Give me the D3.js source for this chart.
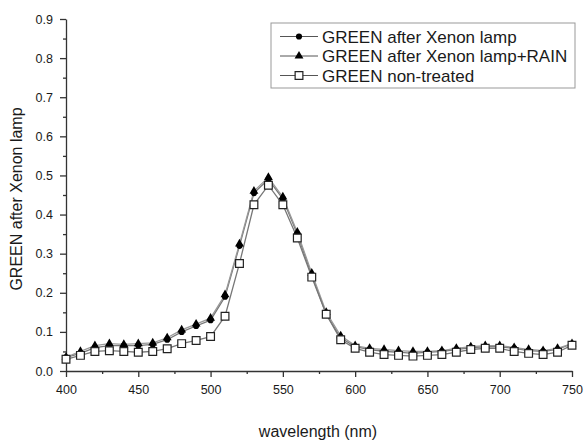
<!DOCTYPE html>
<meta charset="utf-8">
<style>
  body { margin: 0; background: #fff; font-family: "Liberation Sans", Arial, sans-serif; }
  .axis path, .axis line { stroke: #333; stroke-width: 1.3px; }
  .axis text { font-size: 12.5px; fill: #1a1a1a; }
</style>
<body></body>
<script src="https://d3js.org/d3.v7.min.js"></script>
<script>
  // wavelengths (nm)
  var wavelength = [400, 410, 420, 430, 440, 450, 460, 470, 480, 490, 500, 510, 520, 530, 540, 550, 560, 570,
    580, 590, 600, 610, 620, 630, 640, 650, 660, 670, 680, 690, 700, 710, 720, 730, 740, 750];

  var xenon = [0.035, 0.045, 0.06, 0.065, 0.065, 0.065, 0.068, 0.08, 0.1, 0.115, 0.13, 0.19, 0.32, 0.455, 0.49, 0.44, 0.35, 0.245,
    0.145, 0.085, 0.062, 0.055, 0.05, 0.048, 0.045, 0.048, 0.05, 0.055, 0.06, 0.062, 0.062, 0.058, 0.052, 0.05, 0.055, 0.07];

  var xenonRain = [0.035, 0.05, 0.065, 0.07, 0.068, 0.07, 0.072, 0.085, 0.105, 0.12, 0.135, 0.195, 0.325, 0.46, 0.495, 0.445, 0.355, 0.25,
    0.15, 0.09, 0.065, 0.058, 0.055, 0.052, 0.05, 0.05, 0.052, 0.058, 0.062, 0.065, 0.065, 0.06, 0.055, 0.052, 0.058, 0.07];

  var nonTreated = [0.03, 0.04, 0.05, 0.052, 0.05, 0.048, 0.05, 0.057, 0.07, 0.078, 0.088, 0.14, 0.275, 0.425, 0.475, 0.425, 0.34, 0.24,
    0.145, 0.08, 0.058, 0.048, 0.042, 0.04, 0.038, 0.04, 0.042, 0.048, 0.055, 0.058, 0.058, 0.05, 0.045, 0.042, 0.048, 0.066];

  var seriesNames = ["GREEN after Xenon lamp", "GREEN after Xenon lamp+RAIN", "GREEN non-treated"];
  var xTicks = [400, 450, 500, 550, 600, 650, 700, 750];
  var yTicks = [0.0, 0.1, 0.2, 0.3, 0.4, 0.5, 0.6, 0.7, 0.8, 0.9];

  var margin = { top: 19, right: 13, bottom: 70, left: 66 },
    width = 585 - margin.left - margin.right,
    height = 441 - margin.top - margin.bottom;

  var svg = d3.select("body").append("svg")
    .attr("width", 585)
    .attr("height", 441);

  var g = svg.append("g")
    .attr("transform", "translate(" + margin.left + "," + margin.top + ")");

  var x = d3.scaleLinear().domain([400, 750]).range([0, width]);
  var y = d3.scaleLinear().domain([0, 0.9]).range([height, 0]);

  // minor ticks
  g.append("g")
    .attr("class", "axis")
    .attr("transform", "translate(0," + height + ")")
    .call(d3.axisBottom(x).tickValues(d3.range(425, 750, 50)).tickSize(3).tickFormat(""))
    .select(".domain").remove();
  g.append("g")
    .attr("class", "axis")
    .call(d3.axisLeft(y).tickValues(d3.range(0.05, 0.9, 0.1)).tickSize(3).tickFormat(""))
    .select(".domain").remove();

  g.append("g")
    .attr("class", "axis")
    .attr("transform", "translate(0," + height + ")")
    .call(d3.axisBottom(x).tickValues(xTicks).tickSize(6).tickSizeOuter(0).tickPadding(8));

  g.append("g")
    .attr("class", "axis")
    .call(d3.axisLeft(y).tickValues(yTicks).tickSize(6).tickSizeOuter(0).tickPadding(7).tickFormat(d3.format(".1f")));

  var series = [
    { name: seriesNames[0], values: xenon, symbol: d3.symbolCircle, size: 30, fill: "#000", stroke: "#777" },
    { name: seriesNames[1], values: xenonRain, symbol: d3.symbolTriangle, size: 34, fill: "#000", stroke: "#999" },
    { name: seriesNames[2], values: nonTreated, symbol: d3.symbolSquare, size: 60, fill: "#fff", stroke: "#777" }
  ];

  var line = d3.line()
    .x(function(d, i) { return x(wavelength[i]); })
    .y(function(d) { return y(d); });

  series.forEach(function(s) {
    g.append("path")
      .datum(s.values)
      .attr("fill", "none")
      .attr("stroke", s.stroke)
      .attr("stroke-width", 1.3)
      .attr("d", line);
  });

  series.forEach(function(s) {
    g.selectAll(null)
      .data(s.values)
      .enter().append("path")
      .attr("transform", function(d, i) { return "translate(" + x(wavelength[i]) + "," + y(d) + ")"; })
      .attr("d", d3.symbol().type(s.symbol).size(s.size))
      .attr("fill", s.fill)
      .attr("stroke", s.fill === "#fff" ? "#222" : "none")
      .attr("stroke-width", 1.2);
  });

  // legend
  var legend = svg.append("g").attr("transform", "translate(271,23)");
  legend.append("rect")
    .attr("width", 304).attr("height", 65)
    .attr("fill", "#fff").attr("stroke", "#999").attr("stroke-width", 1);

  series.forEach(function(s, i) {
    var row = legend.append("g").attr("transform", "translate(0," + (13.5 + i * 19.5) + ")");
    row.append("line").attr("x1", 9).attr("x2", 47).attr("stroke", "#555").attr("stroke-width", 1);
    row.append("path")
      .attr("transform", "translate(28,0)")
      .attr("d", d3.symbol().type(s.symbol).size(s.size))
      .attr("fill", s.fill)
      .attr("stroke", s.fill === "#fff" ? "#222" : "none")
      .attr("stroke-width", 1.2);
    row.append("text")
      .attr("x", 51).attr("dy", "0.36em")
      .style("font-size", "17px").style("fill", "#1a1a1a")
      .text(s.name);
  });

  svg.append("text")
    .attr("transform", "rotate(-90)")
    .attr("x", -(margin.top + 180))
    .attr("y", 22)
    .style("text-anchor", "middle")
    .style("font-size", "16px").style("fill", "#1a1a1a")
    .text("GREEN after Xenon lamp");

  svg.append("text")
    .attr("x", 318)
    .attr("y", 437)
    .style("text-anchor", "middle")
    .style("font-size", "16px").style("fill", "#1a1a1a")
    .text("wavelength (nm)");
</script>
